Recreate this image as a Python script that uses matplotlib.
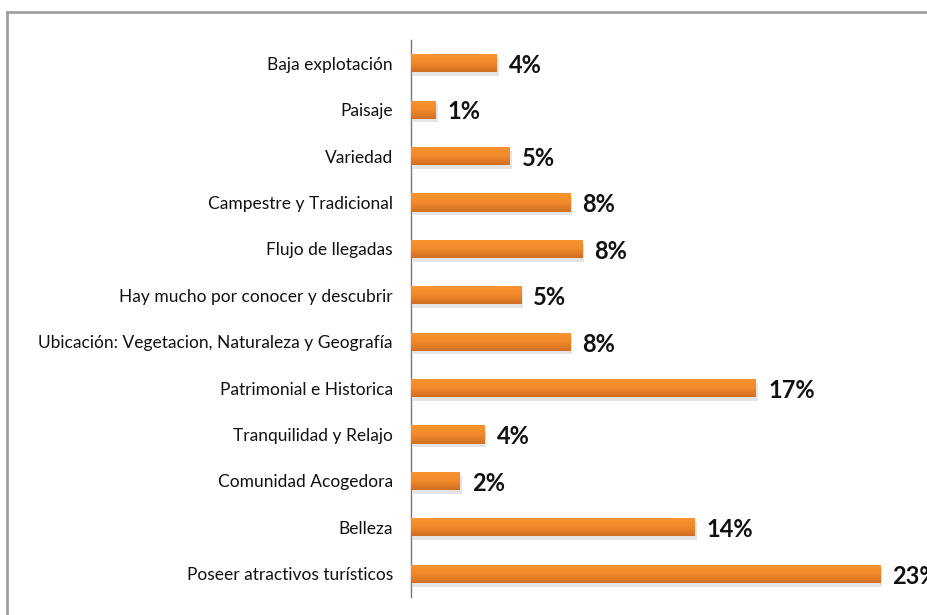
import numpy as np
import matplotlib.pyplot as plt
from matplotlib.lines import Line2D
from matplotlib.colors import LinearSegmentedColormap

# Datos
categorias = [
    "Baja explotación",
    "Paisaje",
    "Variedad",
    "Campestre y Tradicional",
    "Flujo de llegadas",
    "Hay mucho por conocer y descubrir",
    "Ubicación: Vegetacion, Naturaleza y Geografía",
    "Patrimonial e Historica",
    "Tranquilidad y Relajo",
    "Comunidad Acogedora",
    "Belleza",
    "Poseer atractivos turísticos",
]
valores = [4.2, 1.2, 4.85, 7.8, 8.4, 5.4, 7.8, 16.9, 3.6, 2.4, 13.9, 23.0]
etiquetas = ["4%", "1%", "5%", "8%", "8%", "5%", "8%", "17%", "4%", "2%", "14%", "23%"]

fuente = ["Lato", "DejaVu Sans"]

fig = plt.figure(figsize=(9.27, 6.15), dpi=100)
W, H = 927, 615
ax = fig.add_axes([411 / W, 1 - 597 / H, (W - 411) / W, (597 - 40) / H])

y = np.arange(len(categorias))
alto = 0.39
grad = np.linspace(0, 1, 64).reshape(-1, 1)
cmap = LinearSegmentedColormap.from_list("nar", ["#F8952F", "#F28A2C", "#D06F22"])

for yi, v in zip(y, valores):
    # sombra
    ax.barh(yi + 0.08, v, height=alto, left=0.1, color="#c4c4c4", alpha=0.45, zorder=1)
    b = ax.barh(yi, v, height=alto, color="#F08A2C", zorder=2)[0]
    im = ax.imshow(grad, cmap=cmap, aspect="auto", zorder=3,
                   extent=[0, v, yi + alto / 2, yi - alto / 2])
    im.set_clip_path(b)

for yi, v, t in zip(y, valores, etiquetas):
    ax.text(v + 0.6, yi + 0.05, t, va="center", ha="left", fontsize=17, fontweight="bold",
            family=fuente, color="#111111", clip_on=False)

ax.set_xlim(0, (W - 411) / 20.4)
ax.set_ylim(len(categorias) - 0.5, -0.5)
ax.set_yticks(y)
ax.set_yticklabels(categorias, fontsize=12.5, family=fuente, color="#111111")
ax.tick_params(axis="y", length=0, pad=13)
ax.set_xticks([])
for s in ["top", "right", "bottom"]:
    ax.spines[s].set_visible(False)
ax.spines["left"].set_color("#777777")
ax.spines["left"].set_linewidth(1)

# marco gris
fig.add_artist(Line2D([7 / W, 7 / W], [0, 1 - 12 / H], color="#A0A0A0", lw=2))
fig.add_artist(Line2D([7 / W, 1], [1 - 12 / H, 1 - 12 / H], color="#A0A0A0", lw=2))

fig.savefig("out.png", dpi=100)
